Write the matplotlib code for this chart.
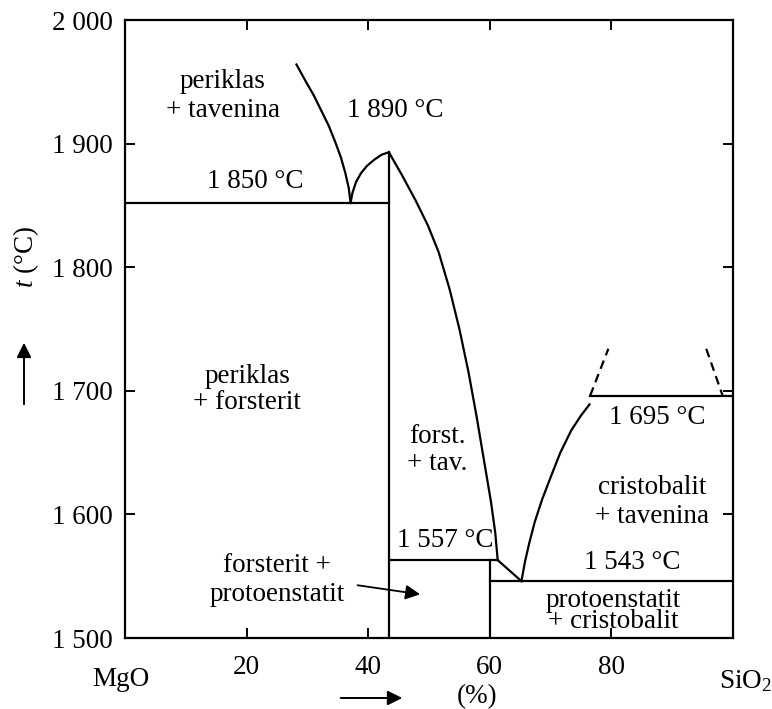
import matplotlib.pyplot as plt

plt.rcParams['font.family'] = 'Liberation Serif'
plt.rcParams['mathtext.fontset'] = 'custom'
plt.rcParams['mathtext.rm'] = 'Liberation Serif'
plt.rcParams['mathtext.it'] = 'Liberation Serif:italic'

# axis ticks
x_ticks = [20, 40, 60, 80]
x_tick_labels = ['20', '40', '60', '80']
y_ticks = [1500, 1600, 1700, 1800, 1900, 2000]
y_tick_labels = ['1 500', '1 600', '1 700', '1 800', '1 900', '2 000']

# liquidus of periklas (down to the first eutectic)
periklas_x = [28.2, 29.65, 31.05, 32.35, 33.55, 34.6, 35.5, 36.25, 36.8, 37.1]
periklas_t = [1964, 1951, 1939, 1926, 1914, 1901, 1889, 1876, 1864, 1852]
# forsterit liquidus, left branch (eutectic -> melting point)
forst_left_x = [37.1, 37.4, 38.0, 38.8, 39.8, 41.0, 42.2, 43.4]
forst_left_t = [1852, 1860, 1869, 1876, 1882, 1887, 1891, 1893]
# forsterit liquidus, right branch
forst_right_x = [43.4, 45.5, 47.8, 49.8, 51.6, 53.4, 55.0, 56.5, 57.8, 59.0, 60.2, 60.9, 61.3]
forst_right_t = [1893, 1875, 1854, 1834, 1812, 1782, 1750, 1715, 1680, 1645, 1610, 1585, 1563]
# protoenstatit liquidus
proto_x = [61.3, 65.2]
proto_t = [1563, 1546]
# cristobalit liquidus
crist_x = [65.2, 65.8, 66.5, 67.4, 68.6, 70.0, 71.6, 73.4, 75.0, 76.4]
crist_t = [1546, 1562, 1577, 1594, 1612, 1630, 1650, 1668, 1680, 1689]
# dashed borders of the two-liquid region
dash_left_x = [76.5, 79.5]
dash_left_t = [1696, 1734]
dash_right_x = [95.6, 98.3]
dash_right_t = [1734, 1696]

# isotherms and the compound lines
t_eut1 = 1852   # 1 850 °C
t_peak = 1893   # 1 890 °C
t_mono = 1696   # 1 695 °C
t_inc = 1563    # 1 557 °C
t_eut2 = 1546   # 1 543 °C
x_forst = 43.4
x_enst = 60.0

fig = plt.figure(figsize=(7.72, 7.09), dpi=100)
ax = fig.add_axes([125 / 772, 1 - 638 / 709, 608 / 772, 618 / 709])
ax.set_xlim(0, 100)
ax.set_ylim(1500, 2000)

lw = 1.6
k = 'black'
ax.plot(periklas_x, periklas_t, color=k, lw=lw)
ax.plot(forst_left_x, forst_left_t, color=k, lw=lw)
ax.plot(forst_right_x, forst_right_t, color=k, lw=lw)
ax.plot(proto_x, proto_t, color=k, lw=lw)
ax.plot(crist_x, crist_t, color=k, lw=lw)
ax.plot(dash_left_x, dash_left_t, color=k, lw=lw, ls=(0, (4, 2.5)))
ax.plot(dash_right_x, dash_right_t, color=k, lw=lw, ls=(0, (4, 2.5)))

ax.plot([0, x_forst], [t_eut1, t_eut1], color=k, lw=lw)
ax.plot([x_forst, x_forst], [1500, t_peak], color=k, lw=lw)
ax.plot([x_forst, forst_right_x[-1]], [t_inc, t_inc], color=k, lw=lw)
ax.plot([x_enst, x_enst], [1500, t_inc], color=k, lw=lw)
ax.plot([x_enst, 100], [t_eut2, t_eut2], color=k, lw=lw)
ax.plot([crist_x[-1], 100], [t_mono, t_mono], color=k, lw=lw)

fs = 19.5
ax.set_xticks(x_ticks)
ax.set_xticklabels(x_tick_labels)
ax.set_yticks(y_ticks)
ax.set_yticklabels(y_tick_labels)
ax.tick_params(direction='in', length=7, width=1.4, top=True, right=True,
               labelsize=fs, pad=9)
ax.tick_params(axis='x', pad=12)
for s in ax.spines.values():
    s.set_linewidth(1.6)

ax.text(16.1, 1938.5, 'periklas\n+ tavenina', ha='center', va='center', fontsize=fs, linespacing=1.2)
ax.text(44.4, 1927, '1 890 °C', ha='center', va='center', fontsize=fs)
ax.text(21.4, 1869, '1 850 °C', ha='center', va='center', fontsize=fs)
ax.text(20.1, 1700.7, 'periklas\n+ forsterit', ha='center', va='center', fontsize=fs, linespacing=1.05)
ax.text(51.3, 1652, 'forst.\n+ tav.', ha='center', va='center', fontsize=fs, linespacing=1.1)
ax.text(87.5, 1678, '1 695 °C', ha='center', va='center', fontsize=fs)
ax.text(86.7, 1610, 'cristobalit\n+ tavenina', ha='center', va='center', fontsize=fs, linespacing=1.25)
ax.text(52.6, 1579, '1 557 °C', ha='center', va='center', fontsize=fs)
ax.text(83.4, 1561, '1 543 °C', ha='center', va='center', fontsize=fs)
ax.text(80.3, 1522, 'protoenstatit\n+ cristobalit', ha='center', va='center', fontsize=fs, linespacing=0.8)
ax.text(25.0, 1547, 'forsterit +\nprotoenstatit', ha='center', va='center', fontsize=fs, linespacing=1.25)

ax.annotate('', xy=(49.0, 1535), xytext=(37.8, 1543),
            arrowprops=dict(arrowstyle='-|>', color=k, lw=1.3, mutation_scale=22))

# labels outside the axes
fig.text(121 / 772, 1 - 679 / 709, 'MgO', ha='center', va='center', fontsize=fs)
fig.text(745 / 772, 1 - 681 / 709, 'SiO$_2$', ha='center', va='center', fontsize=fs)
fig.text(477 / 772, 1 - 697 / 709, '(%)', ha='center', va='center', fontsize=fs)
fig.text(26 / 772, 1 - 257 / 709, '$t$ (°C)', ha='center', va='center', fontsize=fs, rotation=90)

# direction arrows
ax.annotate('', xy=(405, 11), xytext=(338, 11), xycoords='figure pixels',
            textcoords='figure pixels',
            arrowprops=dict(arrowstyle='-|>', color=k, lw=1.4, mutation_scale=22))
ax.annotate('', xy=(24, 369), xytext=(24, 302), xycoords='figure pixels',
            textcoords='figure pixels',
            arrowprops=dict(arrowstyle='-|>', color=k, lw=1.4, mutation_scale=22))

fig.savefig('out.png', dpi=100)
